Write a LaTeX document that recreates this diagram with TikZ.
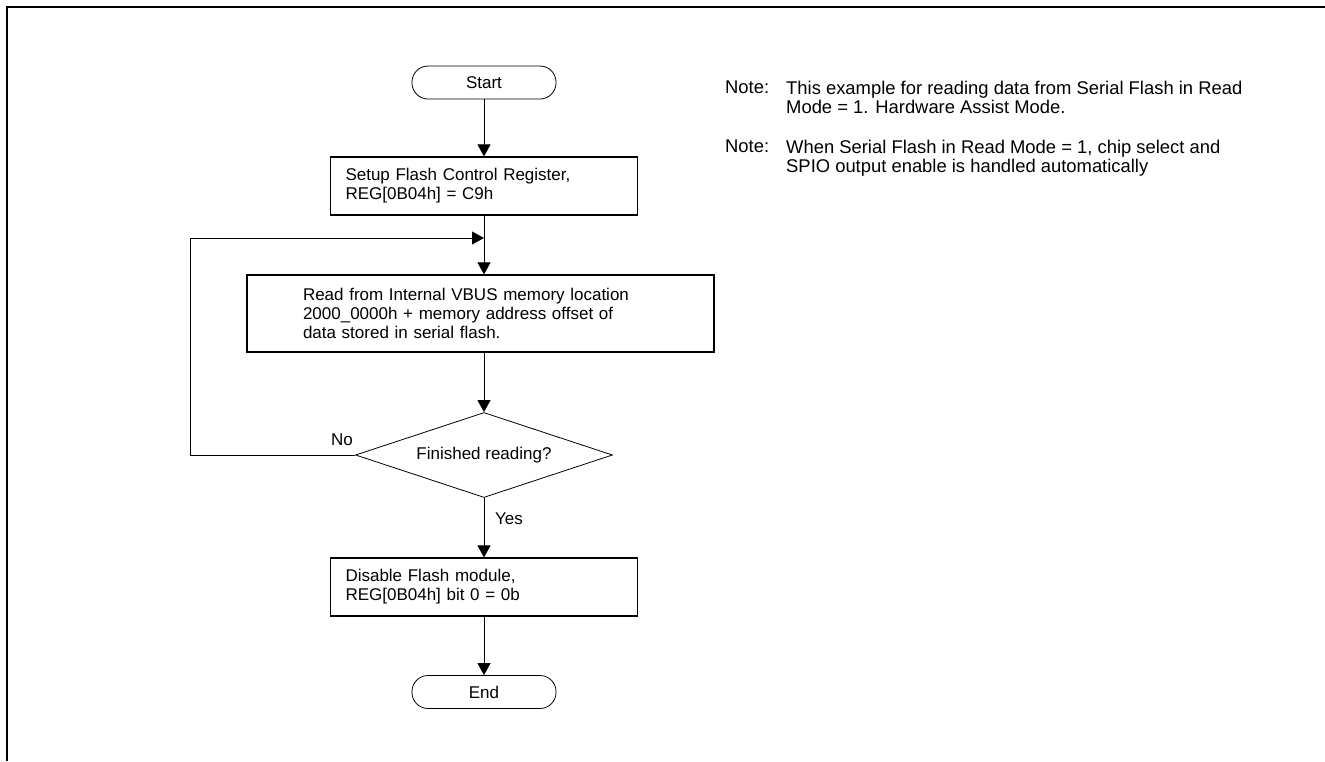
\documentclass[tikz,border=0pt]{standalone}
\usepackage{fontspec}
\setmainfont{Liberation Sans}
\usetikzlibrary{
	arrows.meta,
	shapes.geometric
}

\begin{document}
\begin{tikzpicture}[
 x=1pt,y=-1pt,
 font=\fontsize{17}{19}\selectfont,
 term/.style={draw,line width=.8pt,rounded corners=16pt,minimum width=144pt,
   minimum height=33pt,inner sep=0pt},
 proc/.style={draw,line width=1.2pt,align=left,inner ysep=0pt},
 decide/.style={draw,line width=.8pt,diamond,aspect=3,inner sep=0pt,
   minimum width=257pt,minimum height=85pt},
 flow/.style={-{Triangle[length=12pt,width=13pt]},line width=.8pt},
 note/.style={anchor=north west,align=left,inner sep=0pt,
   font=\fontsize{18.4}{19}\selectfont}
]
 \useasboundingbox (0,0) rectangle (1325,761);
 \draw[line width=2.4pt] (7,761) -- (7,7) -- (1325,7);
 \node[term] (start) at (484,82.5) {Start};
 \node[proc,text width=277pt,inner xsep=15pt,minimum height=58pt] (setup) at (484,186)
   {Setup Flash Control Register,\\REG[0B04h] = C9h};
 \node[proc,text width=355pt,inner xsep=56pt,minimum height=77pt] (read) at (480.5,313.5)
   {Read from Internal VBUS memory location\\2000\_0000h + memory address offset of\\data stored in serial flash.};
 \node[decide] (dec) at (484,455) {Finished reading?};
 \node[proc,text width=277pt,inner xsep=15pt,minimum height=58pt] (disable) at (484,587)
   {Disable Flash module,\\REG[0B04h] bit 0 = 0b};
 \node[term] (end) at (484,692) {End};
 \coordinate (merge) at (484,238);
 \coordinate (loopcorner) at (190,238);
 \draw[flow] (start) -- (setup);
 \draw[flow] (setup.south) -- (setup.south |- read.north);
 \draw[flow] (dec.north |- read.south) -- (dec.north);
 \draw[flow] (dec.west) -| (loopcorner) -- (merge);
 \draw[flow] (dec) -- (disable);
 \draw[flow] (disable) -- (end);
 \node (no) at (342,440) {No};
 \node (yes) at (509,519) {Yes};
 \node[note] (notealabel) at (725,81) {Note:};
 \node[note] (noteatext) at (786,81)
   {This example for reading data from Serial Flash in Read\\Mode = 1. Hardware Assist Mode.};
 \node[note] (noteblabel) at (725,140) {Note:};
 \node[note] (notebtext) at (786,140)
   {When Serial Flash in Read Mode = 1, chip select and\\SPIO output enable is handled automatically};
\end{tikzpicture}
\end{document}
